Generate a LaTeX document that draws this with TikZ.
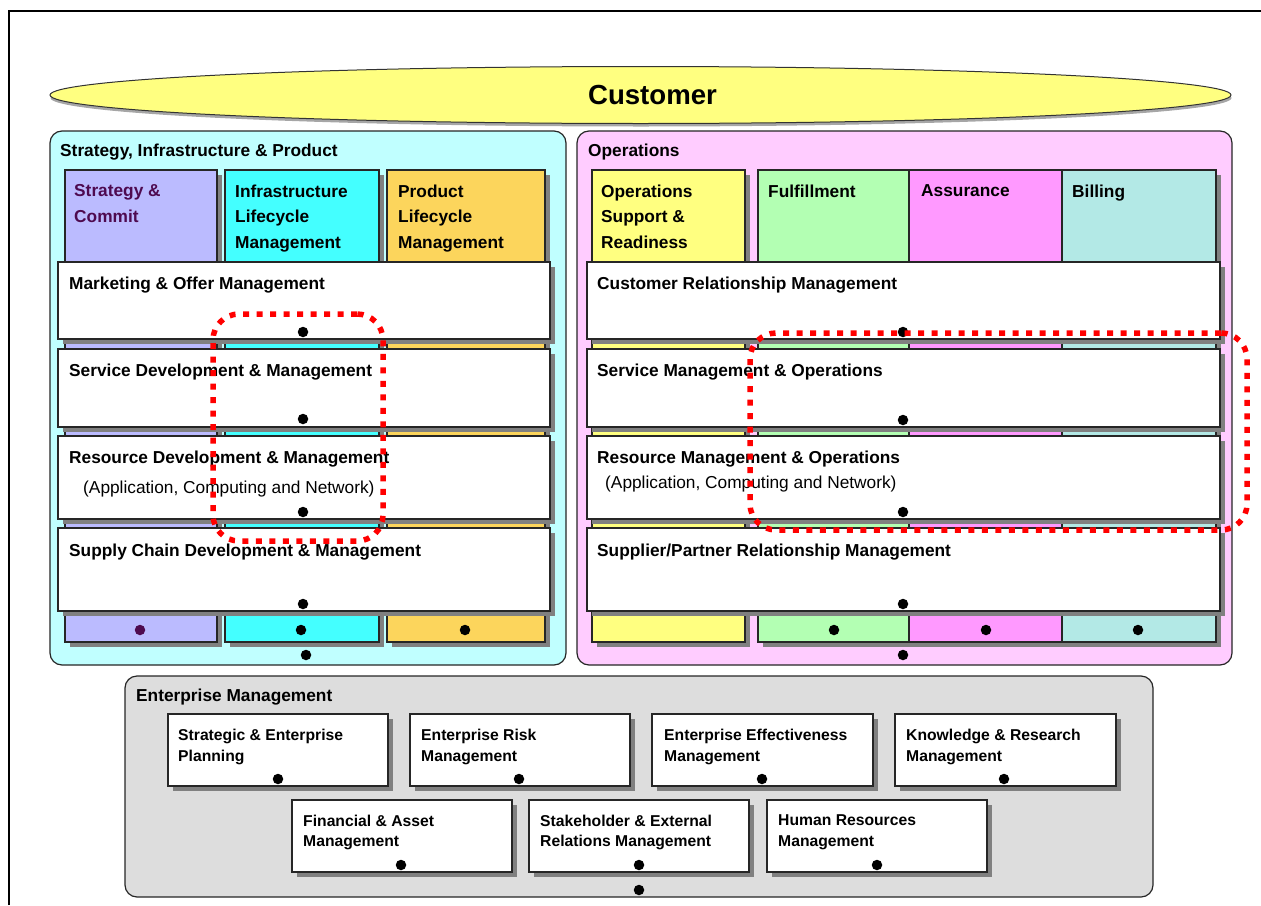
\documentclass[tikz,border=0pt]{standalone}
\usepackage{fontspec}
\setmainfont{Liberation Sans}
\usetikzlibrary{shapes.geometric,fit,shadows}
\definecolor{sipbg}{HTML}{C0FFFF}
\definecolor{opsbg}{HTML}{FFCCFF}
\definecolor{embg}{HTML}{DDDDDD}
\definecolor{custfill}{HTML}{FFFF80}
\definecolor{colstrat}{HTML}{BBBBFF}
\definecolor{colinfra}{HTML}{44FFFF}
\definecolor{colprod}{HTML}{FCD55C}
\definecolor{colosr}{HTML}{FFFF80}
\definecolor{colful}{HTML}{B3FFB3}
\definecolor{colass}{HTML}{FF99FF}
\definecolor{colbill}{HTML}{B3E9E6}
\definecolor{stratpurple}{HTML}{4E0A50}
\definecolor{shadowgray}{HTML}{808080}
\begin{document}
\begin{tikzpicture}[x=1pt,y=-1pt,
  panel/.style={draw=black!85, line width=1.2pt, rounded corners=12pt, inner sep=0pt},
  colbox/.style={draw=black!85, line width=1.2pt, inner sep=0pt,
    general shadow={fill=shadowgray, shadow xshift=5pt, shadow yshift=-5pt}},
  rowbox/.style={colbox, fill=white},
  dot/.style={circle, fill=black, inner sep=0pt, minimum size=10.5pt},
  lbl/.style={anchor=north west, inner sep=0pt, align=left,
    font=\fontsize{17.3}{25.5}\selectfont\bfseries},
  sublbl/.style={anchor=base west, inner sep=0pt,
    font=\fontsize{17.3}{20}\selectfont},
  elbl/.style={anchor=north west, inner sep=0pt, align=left,
    font=\fontsize{15.7}{20.5}\selectfont\bfseries},
  redloop/.style={draw=red, line width=5.5pt, dash pattern=on 6pt off 7.5pt,
    rounded corners=26pt, inner sep=0pt}]
\useasboundingbox (0,0) rectangle (1261,905);

% outer frame (clipped at right and bottom)
\coordinate (frameBL) at (9,905);
\coordinate (frameTL) at (9,11);
\coordinate (frameTR) at (1261,11);
\draw[line width=2pt] (frameBL) -- (frameTL) -- (frameTR);

% customer ellipse
\node[ellipse, fill=shadowgray!70, minimum width=1181pt, minimum height=57pt, inner sep=0pt] (custshadow) at (641,98) {};
\node[ellipse, draw=black!80, line width=1pt, fill=custfill, minimum width=1181pt, minimum height=57pt, inner sep=0pt] (customer) at (640.5,95) {};
\node[inner sep=0pt, font=\fontsize{27.6}{30}\selectfont\bfseries] (customerlbl) at (652.5,95) {Customer};

% panels
\node[panel, fill=sipbg, fit={(50,131) (566,665)}] (sip) {};
\node[panel, fill=opsbg, fit={(577,131) (1232,665)}] (ops) {};
\node[panel, fill=embg, fit={(125,676) (1153,897)}] (em) {};
\node[lbl] (siplbl) at (60,143.5) {Strategy, Infrastructure \& Product};
\node[lbl] (opslbl) at (588,143.5) {Operations};
\node[lbl] (emlbl) at (136,688.5) {Enterprise Management};

% SIP columns
\node[colbox, fill=colstrat, fit={(65,170) (217,642)}] (cStrat) {};
\node[colbox, fill=colinfra, fit={(225,170) (379,642)}] (cInfra) {};
\node[colbox, fill=colprod, fit={(387,170) (545,642)}] (cProd) {};
\node[lbl, text=stratpurple] (tStrat) at (74,184.5) {Strategy \&\\Commit};
\node[lbl] (tInfra) at (235,184.5) {Infrastructure\\Lifecycle\\Management};
\node[lbl] (tProd) at (398,184.5) {Product\\Lifecycle\\Management};

% Operations columns
\node[colbox, fill=colosr, fit={(592,170) (745,642)}] (cOSR) {};
\node[colbox, fill=colful, fit={(758,170) (909,642)}] (cFul) {};
\node[colbox, fill=colass, fit={(909,170) (1062,642)}] (cAss) {};
\node[colbox, fill=colbill, fit={(1062,170) (1216,642)}] (cBill) {};
\node[lbl] (tOSR) at (601,184.5) {Operations\\Support \&\\Readiness};
\node[lbl] (tFul) at (768,184.5) {Fulfillment};
\node[lbl] (tAss) at (921,184.5) {Assurance};
\node[lbl] (tBill) at (1072,184.5) {Billing};

% SIP rows
\node[rowbox, fit={(58,262) (550,339)}] (rMkt) {};
\node[lbl] (tMkt) at (69,276.5) {Marketing \& Offer Management};
\node[rowbox, fit={(58,349) (550,427)}] (rSvcD) {};
\node[lbl] (tSvcD) at (69,363.5) {Service Development \& Management};
\node[rowbox, fit={(58,436) (550,519)}] (rResD) {};
\node[lbl] (tResD) at (69,450.5) {Resource Development \& Management};
\node[sublbl] (tResDsub) at (83,493) {(Application, Computing and Network)};
\node[rowbox, fit={(58,528) (550,611)}] (rSup) {};
\node[lbl] (tSup) at (69,543.5) {Supply Chain Development \& Management};

% Operations rows
\node[rowbox, fit={(587,262) (1220,339)}] (rCRM) {};
\node[lbl] (tCRM) at (597,276.5) {Customer Relationship Management};
\node[rowbox, fit={(587,349) (1220,427)}] (rSMO) {};
\node[lbl] (tSMO) at (597,363.5) {Service Management \& Operations};
\node[rowbox, fit={(587,436) (1220,519)}] (rRMO) {};
\node[lbl] (tRMO) at (597,450.5) {Resource Management \& Operations};
\node[sublbl] (tRMOsub) at (605,488) {(Application, Computing and Network)};
\node[rowbox, fit={(587,528) (1220,611)}] (rSPRM) {};
\node[lbl] (tSPRM) at (597,543.5) {Supplier/Partner Relationship Management};

% Enterprise boxes
\node[rowbox, fit={(168,714) (388,786)}] (eSEP) {};
\node[elbl] (tSEP) at (178,729) {Strategic \& Enterprise\\Planning};
\node[rowbox, fit={(410,714) (630,786)}] (eERM) {};
\node[elbl] (tERM) at (421,729) {Enterprise Risk\\Management};
\node[rowbox, fit={(652,714) (873,786)}] (eEEM) {};
\node[elbl] (tEEM) at (664,729) {Enterprise Effectiveness\\Management};
\node[rowbox, fit={(895,714) (1116,786)}] (eKRM) {};
\node[elbl] (tKRM) at (906,729) {Knowledge \& Research\\Management};
\node[rowbox, fit={(292,800) (512,872)}] (eFAM) {};
\node[elbl] (tFAM) at (303,814.5) {Financial \& Asset\\Management};
\node[rowbox, fit={(529,800) (749,872)}] (eSERM) {};
\node[elbl] (tSERM) at (540,814.5) {Stakeholder \& External\\Relations Management};
\node[rowbox, fit={(767,800) (987,872)}] (eHRM) {};
\node[elbl] (tHRM) at (778,814.5) {Human Resources\\Management};

% dots
\node[dot] (dMkt) at (303,332) {};
\node[dot] (dSvcD) at (303,419) {};
\node[dot] (dResD) at (303,512) {};
\node[dot] (dSup) at (303,604) {};
\node[dot, fill=stratpurple] (dStrat) at (140,630) {};
\node[dot] (dInfra) at (301,630) {};
\node[dot] (dProd) at (465,630) {};
\node[dot] (dSIP) at (306,655) {};
\node[dot] (dCRM) at (903,332) {};
\node[dot] (dSMO) at (903,420) {};
\node[dot] (dRMO) at (903,512) {};
\node[dot] (dSPRM) at (903,604) {};
\node[dot] (dFul) at (834,630) {};
\node[dot] (dAss) at (986,630) {};
\node[dot] (dBill) at (1138,630) {};
\node[dot] (dOps) at (903,655) {};
\node[dot] (dSEP) at (278,779) {};
\node[dot] (dERM) at (519,779) {};
\node[dot] (dEEM) at (762,779) {};
\node[dot] (dKRM) at (1004,779) {};
\node[dot] (dFAM) at (401,865) {};
\node[dot] (dSERM) at (639,865) {};
\node[dot] (dHRM) at (877,865) {};
\node[dot] (dEM) at (639,890) {};

% red dotted highlight loops
\node[redloop, fit={(213,314) (383,541)}] (loopL) {};
\node[redloop, fit={(750,333) (1247,530)}] (loopR) {};
\end{tikzpicture}
\end{document}
